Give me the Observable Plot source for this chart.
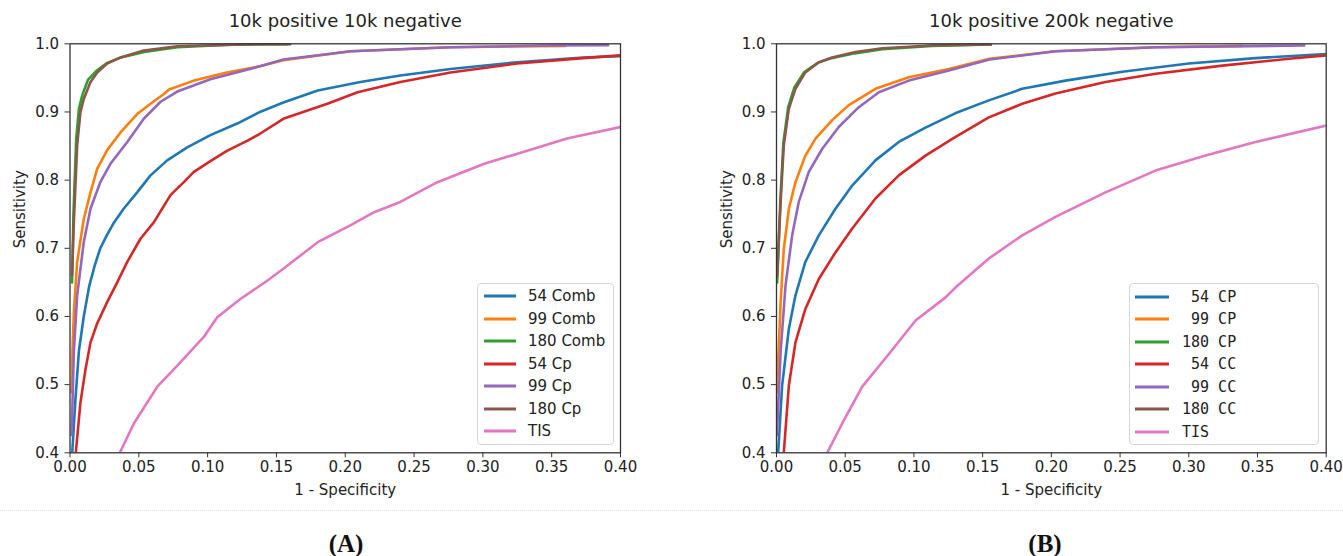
<!DOCTYPE html>
<html><head><meta charset="utf-8">
<script src="https://cdn.jsdelivr.net/npm/d3@7"></script>
<script src="https://cdn.jsdelivr.net/npm/@observablehq/plot@0.6"></script>
<style>
body{margin:0;background:#fff;}
#wrap{position:relative;width:1343px;height:556px;overflow:hidden;font-family:"DejaVu Sans",sans-serif;}
.panel{position:absolute;top:0;}
.legend{position:absolute;border:1px solid #d6d6d6;border-radius:4px;background:rgba(255,255,255,0.85);box-sizing:border-box;}
.row{position:absolute;left:0;height:22px;display:flex;align-items:center;font-size:15px;color:#222;white-space:pre;}
.sep{position:absolute;left:0;width:1343px;top:510px;border-top:1px dotted #e2e2e2;}
.tag{position:absolute;top:530px;font-family:"Liberation Serif","Times New Roman",serif;font-weight:bold;font-size:25px;color:#111;transform:translateX(-50%);}
</style>
</head><body>
<div id="wrap"></div>
<script>
// ---------- data ----------
const xTicks = [0.00, 0.05, 0.10, 0.15, 0.20, 0.25, 0.30, 0.35, 0.40];
const yTicks = [0.4, 0.5, 0.6, 0.7, 0.8, 0.9, 1.0];
const colors = ["#1f77b4", "#ff7f0e", "#2ca02c", "#d62728", "#9467bd", "#8c564b", "#e377c2"];

const titleA = "10k positive 10k negative";
const titleB = "10k positive 200k negative";
const xLabel = "1 - Specificity";
const yLabel = "Sensitivity";
const namesA = ["54 Comb", "99 Comb", "180 Comb", "54 Cp", "99 Cp", "180 Cp", "TIS"];
const namesB = [" 54 CP", " 99 CP", "180 CP", " 54 CC", " 99 CC", "180 CC", "TIS"];

// Panel A
const a54Comb = [[0.0016,0.400],[0.004,0.480],[0.0065,0.550],[0.010,0.600],[0.014,0.645],[0.018,0.675],[0.022,0.700],[0.027,0.720],[0.032,0.738],[0.039,0.758],[0.0488,0.782],[0.0585,0.807],[0.0706,0.829],[0.0852,0.848],[0.102,0.866],[0.1215,0.883],[0.138,0.900],[0.155,0.914],[0.180,0.9315],[0.211,0.944],[0.240,0.9535],[0.2765,0.963],[0.325,0.973],[0.373,0.980],[0.400,0.982]];
const a99Comb = [[0.0012,0.489],[0.0018,0.550],[0.0028,0.606],[0.0052,0.680],[0.010,0.743],[0.0149,0.782],[0.0198,0.817],[0.027,0.844],[0.0367,0.870],[0.0488,0.897],[0.0585,0.912],[0.068,0.926],[0.072,0.933],[0.090,0.946],[0.114,0.958],[0.138,0.967],[0.155,0.976],[0.204,0.989],[0.2765,0.995],[0.360,0.997]];
const a180Comb = [[0.0015,0.650],[0.0025,0.750],[0.0045,0.860],[0.0065,0.905],[0.009,0.925],[0.013,0.947],[0.019,0.960],[0.027,0.972],[0.037,0.980],[0.054,0.988],[0.078,0.995],[0.120,0.999],[0.158,0.9995]];
const a54Cp = [[0.0042,0.400],[0.0076,0.474],[0.0113,0.523],[0.0149,0.562],[0.0198,0.590],[0.027,0.621],[0.0343,0.650],[0.0416,0.680],[0.0512,0.714],[0.0609,0.738],[0.073,0.778],[0.0827,0.797],[0.090,0.812],[0.102,0.828],[0.114,0.843],[0.129,0.858],[0.138,0.868],[0.155,0.890],[0.187,0.912],[0.209,0.929],[0.240,0.944],[0.2765,0.958],[0.325,0.971],[0.373,0.979],[0.400,0.983]];
const a99Cp = [[0.0012,0.426],[0.0028,0.548],[0.0052,0.631],[0.010,0.709],[0.0149,0.758],[0.022,0.797],[0.0294,0.824],[0.0416,0.856],[0.0536,0.890],[0.0658,0.915],[0.078,0.930],[0.102,0.948],[0.138,0.967],[0.155,0.977],[0.204,0.989],[0.2765,0.995],[0.349,0.9975],[0.391,0.998]];
const a180Cp = [[0.0015,0.660],[0.0028,0.738],[0.0052,0.851],[0.0076,0.900],[0.010,0.919],[0.0149,0.944],[0.0198,0.958],[0.027,0.971],[0.0367,0.980],[0.0536,0.990],[0.078,0.9965],[0.138,0.9995],[0.160,0.9995]];
const aTIS = [[0.0362,0.400],[0.0464,0.443],[0.0634,0.497],[0.078,0.528],[0.0972,0.570],[0.107,0.599],[0.124,0.626],[0.143,0.652],[0.155,0.670],[0.180,0.709],[0.204,0.734],[0.221,0.753],[0.240,0.768],[0.267,0.797],[0.301,0.824],[0.337,0.846],[0.361,0.861],[0.400,0.878]];

// Panel B
const b54CP = [[0.0012,0.400],[0.0041,0.499],[0.009,0.582],[0.0138,0.631],[0.021,0.680],[0.0308,0.719],[0.0429,0.758],[0.0551,0.792],[0.072,0.829],[0.089,0.856],[0.1084,0.877],[0.130,0.898],[0.1545,0.917],[0.1788,0.934],[0.2103,0.946],[0.2516,0.959],[0.300,0.971],[0.3486,0.979],[0.400,0.985]];
const b99CP = [[0.0003,0.489],[0.003,0.621],[0.0053,0.699],[0.009,0.758],[0.0138,0.797],[0.021,0.836],[0.0284,0.861],[0.0405,0.888],[0.0526,0.910],[0.072,0.934],[0.0963,0.951],[0.1254,0.963],[0.155,0.978],[0.203,0.989],[0.276,0.995],[0.339,0.997]];
const b180CP = [[0.0005,0.650],[0.0028,0.770],[0.005,0.855],[0.0085,0.907],[0.013,0.936],[0.020,0.958],[0.030,0.972],[0.040,0.979],[0.057,0.986],[0.077,0.992],[0.113,0.997],[0.156,0.999]];
const b54CC = [[0.0053,0.400],[0.009,0.499],[0.0138,0.562],[0.021,0.611],[0.0308,0.655],[0.0429,0.694],[0.0551,0.729],[0.072,0.773],[0.089,0.807],[0.1084,0.836],[0.130,0.863],[0.1545,0.892],[0.1788,0.912],[0.203,0.927],[0.2394,0.944],[0.2758,0.956],[0.3244,0.968],[0.3729,0.978],[0.400,0.983]];
const b99CC = [[0.0003,0.426],[0.003,0.548],[0.0066,0.646],[0.0114,0.719],[0.0162,0.768],[0.0235,0.812],[0.0333,0.846],[0.0453,0.878],[0.0599,0.907],[0.0745,0.929],[0.0963,0.946],[0.1254,0.961],[0.155,0.977],[0.203,0.989],[0.276,0.995],[0.384,0.9975]];
const b180CC = [[0.0005,0.660],[0.003,0.768],[0.0053,0.851],[0.009,0.905],[0.0138,0.934],[0.021,0.958],[0.0308,0.973],[0.0405,0.980],[0.0575,0.988],[0.077,0.9935],[0.113,0.9975],[0.156,0.999]];
const bTIS = [[0.0369,0.400],[0.0478,0.443],[0.0624,0.497],[0.0818,0.545],[0.1012,0.594],[0.123,0.628],[0.130,0.642],[0.1545,0.685],[0.1788,0.719],[0.203,0.746],[0.2394,0.782],[0.2758,0.814],[0.3122,0.836],[0.3486,0.856],[0.400,0.880]];

const seriesA = [a54Comb, a99Comb, a180Comb, a54Cp, a99Cp, a180Cp, aTIS];
const seriesB = [b54CP, b99CP, b180CP, b54CC, b99CC, b180CC, bTIS];

// ---------- drawing ----------
const wrap = document.getElementById("wrap");

function panel(cfg) {
  const marks = [
    Plot.axisX({ticks: xTicks, tickFormat: d3.format(".2f"), tickSize: 5, tickPadding: 4, label: null, fontSize: 15, stroke: "#333"}),
    Plot.axisY({ticks: yTicks, tickFormat: d3.format(".1f"), tickSize: 5, tickPadding: 6, label: null, fontSize: 15, stroke: "#333"}),
    ...cfg.series.map((s, i) => Plot.line(s, {x: d => d[0], y: d => d[1], stroke: colors[i], strokeWidth: 2.6, clip: true})),
    Plot.frame({stroke: "#333", strokeWidth: 1.3}),
    Plot.text([cfg.title], {frameAnchor: "top", dy: -30, text: d => d, fontSize: 18, fill: "#222"}),
    Plot.text([yLabel], {frameAnchor: "left", dx: -49.5, rotate: -90, text: d => d, fontSize: 15, fill: "#222"}),
    Plot.text([xLabel], {frameAnchor: "bottom", dy: 42, text: d => d, fontSize: 15, fill: "#222"})
  ];
  const svg = Plot.plot({
    width: cfg.width, height: 510,
    marginLeft: cfg.ml, marginRight: cfg.mr, marginTop: 43.3, marginBottom: 57.7,
    x: {domain: [0, 0.4]},
    y: {domain: [0.4, 1.0]},
    style: {fontFamily: "DejaVu Sans, sans-serif", fontSize: "15px", color: "#222", background: "transparent"},
    marks
  });
  const holder = document.createElement("div");
  holder.className = "panel";
  holder.style.left = cfg.left + "px";
  holder.appendChild(svg);
  wrap.appendChild(holder);

  // legend
  const lg = document.createElement("div");
  lg.className = "legend";
  Object.assign(lg.style, {left: cfg.lg.left + "px", top: cfg.lg.top + "px", width: cfg.lg.w + "px", height: cfg.lg.h + "px"});
  cfg.names.forEach((name, i) => {
    const row = document.createElement("div");
    row.className = "row";
    row.style.top = (cfg.lg.first + i * cfg.lg.step - 11) + "px";
    row.style.left = cfg.lg.pad + "px";
    if (cfg.lg.mono) row.style.fontFamily = "'DejaVu Sans Mono', monospace";
    row.innerHTML = `<svg width="${cfg.lg.sw}" height="4" style="margin-right:${cfg.lg.gap}px"><line x1="0" x2="${cfg.lg.sw}" y1="2" y2="2" stroke="${colors[i]}" stroke-width="3"/></svg><span>${name}</span>`;
    lg.appendChild(row);
  });
  wrap.appendChild(lg);
}

panel({left: 0, width: 671, ml: 69.5, mr: 51, series: seriesA, names: namesA, title: titleA,
  lg: {left: 477, top: 283, w: 137, h: 162, first: 12, step: 22.5, pad: 6, sw: 32, gap: 12, mono: false}});
panel({left: 671, width: 672, ml: 105, mr: 17.3, series: seriesB, names: namesB, title: titleB,
  lg: {left: 1129, top: 283, w: 190, h: 162, first: 13, step: 22.45, pad: 5, sw: 34, gap: 13, mono: true}});

const sep = document.createElement("div");
sep.className = "sep";
wrap.appendChild(sep);
[["(A)", 346], ["(B)", 1045]].forEach(([t, x]) => {
  const d = document.createElement("div");
  d.className = "tag";
  d.style.left = x + "px";
  d.textContent = t;
  wrap.appendChild(d);
});
</script>
</body></html>
